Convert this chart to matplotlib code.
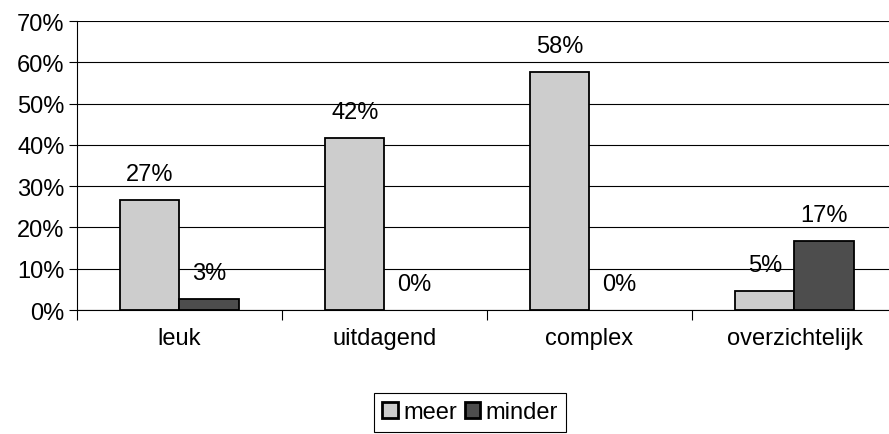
import matplotlib.pyplot as plt
import numpy as np

plt.rcParams['font.family'] = ['Liberation Sans', 'DejaVu Sans']

categories = ['leuk', 'uitdagend', 'complex', 'overzichtelijk']
meer = [26.7, 41.7, 57.6, 4.6]
minder = [2.7, 0.0, 0.0, 16.7]
yticks = [0, 10, 20, 30, 40, 50, 60, 70]

fs = 17

fig = plt.figure(figsize=(8.89, 4.35), dpi=100)
ax = fig.add_axes([0.0866, 0.285, 0.9224, 0.664])

x = np.arange(len(categories))
w = 0.29
b1 = ax.bar(x - w / 2, meer, w, color='#cdcdcd', edgecolor='black', linewidth=1.3, label='meer', zorder=3)
b2 = ax.bar(x + w / 2, minder, w, color='#4d4d4d', edgecolor='black', linewidth=1.3, label='minder', zorder=3)
for r, v in zip(b2, minder):
    if v == 0:
        r.set_linewidth(0)

for bars, vals in ((b1, meer), (b2, minder)):
    for r, v in zip(bars, vals):
        ax.annotate('{:.0f}%'.format(v), (r.get_x() + r.get_width() / 2, v),
                    xytext=(0, 11), textcoords='offset points',
                    ha='center', va='bottom', fontsize=fs)

ax.set_xlim(-0.5, len(categories) - 0.5)
ax.set_ylim(0, 70)
ax.set_yticks(yticks)
ax.set_yticklabels(['{}%'.format(t) for t in yticks], fontsize=fs)
ax.yaxis.grid(True, color='black', linewidth=0.8, zorder=0)
ax.tick_params(axis='y', length=6, width=0.8, pad=3)

ax.set_xticks(x)
ax.set_xticklabels(categories, fontsize=fs)
ax.tick_params(axis='x', which='major', length=0, pad=12)
ax.set_xticks(np.arange(len(categories)) - 0.5, minor=True)
ax.tick_params(axis='x', which='minor', length=7, width=0.8)

for s in ('top', 'right'):
    ax.spines[s].set_visible(False)
ax.spines['left'].set_linewidth(0.8)
ax.spines['bottom'].set_linewidth(0.8)

leg = fig.legend(handles=[b1, b2], labels=['meer', 'minder'], loc='upper center',
                 bbox_to_anchor=(0.529, 1 - 394 / 435), ncol=2, fontsize=fs,
                 frameon=True, fancybox=False, edgecolor='black', framealpha=1,
                 handlelength=0.65, handleheight=0.65, handletextpad=0.25,
                 columnspacing=0.3, borderpad=0.35, borderaxespad=0)
leg.get_frame().set_linewidth(0.8)
for h in leg.legend_handles:
    h.set_linewidth(2)

fig.savefig('out.png', dpi=100)
